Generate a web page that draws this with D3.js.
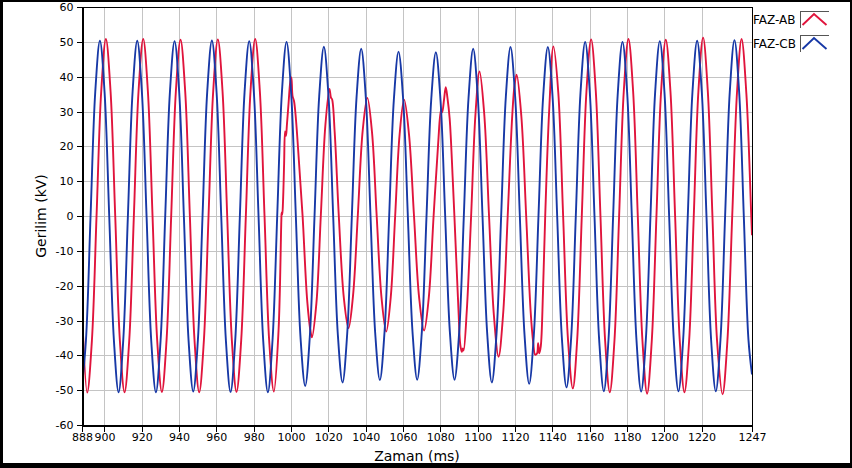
<!DOCTYPE html>
<html>
<head>
<meta charset="utf-8">
<script src="https://cdn.jsdelivr.net/npm/d3@7/dist/d3.min.js"></script>
<style>
  html, body { margin: 0; padding: 0; background: #fff; }
  svg { display: block; }
  text { font-family: "DejaVu Sans", Verdana, sans-serif; }
</style>
</head>
<body>
<svg id="chart" width="852" height="468"></svg>
<script>
// ---------------- data ----------------
const seriesNames = ["FAZ-AB", "FAZ-CB"];
const xTickValues = [888, 900, 920, 940, 960, 980, 1000, 1020, 1040, 1060, 1080, 1100, 1120, 1140, 1160, 1180, 1200, 1220, 1247];
const yTickValues = [-60, -50, -40, -30, -20, -10, 0, 10, 20, 30, 40, 50, 60];

// FAZ-CB (blue): [time ms, kV]
const fazCB = [
  [887.6,-50.8],[890.1,-35.8],[892.6,0.2],[895.1,35.6],[897.6,50.3],[900.1,35.5],[902.6,-0.2],[905.1,-35.7],
  [907.6,-50.6],[910.1,-35.7],[912.6,0.1],[915.1,35.6],[917.6,50.3],[920.1,35.5],[922.6,-0.1],[925.1,-35.8],
  [927.6,-50.6],[930.1,-35.8],[932.6,0.1],[935.1,35.5],[937.6,50.2],[940.1,35.4],[942.6,-0.2],[945.1,-35.7],
  [947.6,-50.4],[950.1,-35.6],[952.6,0.2],[955.1,35.7],[957.6,50.4],[960.1,35.6],[962.6,0.0],[965.1,-35.7],
  [967.6,-50.5],[970.1,-35.7],[972.6,0.1],[975.1,35.5],[977.6,50.2],[980.1,35.4],[982.6,-0.1],[985.1,-35.8],
  [987.6,-50.6],[990.1,-35.6],[992.6,0.0],[995.1,35.4],[997.6,50.0],[1000.1,35.0],[1002.6,-0.3],[1005.1,-35.0],
  [1007.6,-48.8],[1010.1,-34.3],[1012.6,0.1],[1015.1,34.4],[1017.6,48.6],[1020.1,34.2],[1022.6,-0.2],[1025.1,-34.2],
  [1027.6,-47.8],[1030.1,-33.8],[1032.6,0.1],[1035.1,34.0],[1037.6,48.0],[1040.1,33.8],[1042.6,-0.1],[1045.1,-33.6],
  [1047.6,-47.1],[1050.1,-33.3],[1052.6,0.0],[1055.1,33.4],[1057.6,47.2],[1060.1,33.3],[1062.6,-0.1],[1065.1,-33.3],
  [1067.6,-47.0],[1070.1,-33.2],[1072.6,0.0],[1075.1,33.2],[1077.6,47.0],[1080.1,33.2],[1082.6,0.0],[1085.1,-33.2],
  [1087.6,-47.0],[1090.1,-33.4],[1092.6,0.1],[1095.1,33.8],[1097.6,48.0],[1100.1,33.9],[1102.6,0.0],[1105.1,-33.6],
  [1107.6,-47.8],[1110.1,-33.9],[1112.6,0.1],[1115.1,34.2],[1117.6,48.5],[1120.1,34.2],[1122.6,0.0],[1125.1,-34.0],
  [1127.6,-48.2],[1130.1,-34.2],[1132.6,0.1],[1135.1,34.3],[1137.6,48.5],[1140.1,34.6],[1142.6,0.1],[1145.1,-34.8],
  [1147.6,-49.2],[1150.1,-35.0],[1152.6,0.1],[1155.1,35.3],[1157.6,50.0],[1160.1,35.4],[1162.6,0.0],[1165.1,-35.5],
  [1167.6,-50.3],[1170.1,-35.6],[1172.6,0.1],[1175.1,35.4],[1177.6,50.0],[1180.1,35.5],[1182.6,0.0],[1185.1,-35.6],
  [1187.6,-50.4],[1190.1,-35.6],[1192.6,0.0],[1195.1,35.5],[1197.6,50.2],[1200.1,35.5],[1202.6,0.0],[1205.1,-35.6],
  [1207.6,-50.3],[1210.1,-35.6],[1212.6,0.1],[1215.1,35.6],[1217.6,50.3],[1220.1,35.6],[1222.6,0.1],[1225.1,-35.6],
  [1227.6,-50.3],[1230.1,-35.6],[1232.6,0.1],[1235.1,35.7],[1237.6,50.5],[1240.1,35.7],[1242.6,0.1],[1245.1,-35.5],
  [1247.0,-45.5]
];

// FAZ-AB (red): [time ms, kV]
const fazAB = [
  [888.0,-27.0],
  [890.8,-50.7],[893.3,-35.8],[895.8,0.1],[898.3,35.8],[900.8,50.8],[903.3,35.8],[905.8,0.0],[908.3,-35.8],
  [910.8,-50.6],[913.3,-35.8],[915.8,0.1],[918.3,35.9],[920.8,50.8],[923.3,35.8],[925.8,-0.1],[928.3,-35.8],
  [930.8,-50.5],[933.3,-35.7],[935.8,0.1],[938.3,35.8],[940.8,50.6],[943.3,35.7],[945.8,0.0],[948.3,-35.8],
  [950.8,-50.6],[953.3,-35.8],[955.8,0.0],[958.3,35.8],[960.8,50.7],[963.3,35.8],[965.8,0.0],[968.3,-35.7],
  [970.8,-50.5],[973.3,-35.7],[975.8,0.1],[978.3,35.9],[980.8,50.8],[983.3,35.8],[985.8,0.0],[988.3,-35.8],
  [990.8,-50.4],[993.3,-33.0],[994.8,-1.5],[995.0,1.0],[995.3,0.4],[995.7,4.0],[996.3,15.0],[996.8,24.3],[997.3,23.0],[997.8,26.2],
  [998.7,32.5],[999.6,38.5],[1000.2,39.8],[1000.8,34.5],[1001.6,33.0],[1002.6,28.0],[1004.2,16.0],[1006.2,0.0],[1008.7,-24.5],[1010.6,-33.6],[1011.2,-34.8],
  [1013.6,-25.0],[1016.0,0.5],[1018.4,26.0],[1020.6,36.5],[1021.4,34.0],[1022.0,33.5],[1023.4,24.0],[1025.6,0.0],[1028.3,-23.5],[1030.8,-32.2],
  [1033.2,-23.0],[1035.8,0.3],[1038.4,24.5],[1040.9,33.9],[1043.4,24.0],[1045.9,0.0],[1048.5,-23.5],[1051.0,-33.2],
  [1053.4,-23.5],[1055.8,0.0],[1058.2,23.5],[1060.6,33.4],[1063.2,23.5],[1065.9,0.0],[1068.6,-23.2],[1071.3,-32.9],
  [1073.8,-23.5],[1076.4,0.0],[1078.8,20.5],[1080.4,30.5],[1081.0,29.8],[1082.0,33.5],[1082.9,37.0],[1083.8,34.0],[1085.0,28.0],
  [1086.7,10.0],[1088.5,-12.0],[1089.8,-28.0],[1090.7,-37.0],[1091.5,-39.0],[1092.1,-38.0],[1092.5,-38.6],
  [1094.2,-27.0],[1096.5,0.0],[1098.8,29.0],[1101.0,41.5],[1103.5,29.5],[1106.1,0.0],[1108.7,-28.5],[1111.2,-40.4],
  [1113.6,-28.5],[1116.1,0.0],[1118.5,28.5],[1119.8,37.7],[1120.9,40.6],[1123.4,28.7],[1126.0,0.0],[1128.4,-27.5],
  [1129.8,-36.5],[1130.8,-39.8],[1131.8,-39.5],[1132.4,-36.5],[1133.0,-39.4],[1133.8,-37.5],[1135.0,-22.0],[1136.2,0.0],[1138.3,30.0],[1140.6,48.7],
  [1143.2,35.5],[1145.8,0.0],[1148.4,-35.5],[1151.0,-49.5],
  [1153.3,-35.8],[1155.8,0.0],[1158.3,35.8],[1160.8,50.7],[1163.3,35.8],[1165.8,0.0],[1168.3,-35.8],
  [1170.8,-50.6],[1173.3,-35.8],[1175.8,0.0],[1178.3,35.8],[1180.8,50.8],[1183.3,35.8],[1185.8,0.0],[1188.3,-35.8],
  [1190.8,-51.0],[1193.3,-35.8],[1195.8,0.0],[1198.3,35.8],[1200.8,50.6],[1203.3,35.8],[1205.8,0.0],[1208.3,-35.8],
  [1210.8,-50.6],[1213.3,-35.9],[1215.8,0.0],[1218.3,36.0],[1220.8,51.2],[1223.3,36.0],[1225.8,0.0],[1228.3,-36.0],
  [1231.2,-51.2],[1233.8,-36.0],[1236.4,0.0],[1239.0,35.8],[1241.4,50.8],[1244.0,35.0],[1246.6,0.0],[1247.0,-5.5]
];

const seriesColors = ["#e0143c", "#1738a6"];

// ---------------- layout ----------------
const W = 852, H = 468;
const plot = { left: 82, right: 752, top: 7, bottom: 425 };

const svg = d3.select("#chart");

// outer black frame
svg.append("rect").attr("x", 0).attr("y", 0).attr("width", W).attr("height", H).attr("fill", "#000");
svg.append("rect").attr("x", 3).attr("y", 2).attr("width", W - 5).attr("height", H - 7).attr("fill", "#fff");

const x = d3.scaleLinear().domain([888, 1247]).range([plot.left, plot.right]);
const y = d3.scaleLinear().domain([-60, 60]).range([plot.bottom, plot.top]);

// grid
const grid = svg.append("g").attr("stroke", "#c4c4c4").attr("stroke-width", 1).attr("shape-rendering", "crispEdges");
grid.selectAll("line.v").data(xTickValues).join("line")
  .attr("x1", d => Math.round(x(d)) + 0.5).attr("x2", d => Math.round(x(d)) + 0.5)
  .attr("y1", plot.top).attr("y2", plot.bottom);
grid.selectAll("line.h").data(yTickValues).join("line")
  .attr("y1", d => Math.round(y(d)) + 0.5).attr("y2", d => Math.round(y(d)) + 0.5)
  .attr("x1", plot.left).attr("x2", plot.right);

// clip
svg.append("clipPath").attr("id", "clip").append("rect")
  .attr("x", plot.left).attr("y", plot.top).attr("width", plot.right - plot.left).attr("height", plot.bottom - plot.top);

const line = d3.line().x(d => x(d[0])).y(d => y(d[1])).curve(d3.curveCatmullRom.alpha(0.5));

const lines = svg.append("g").attr("clip-path", "url(#clip)");
[fazAB, fazCB].forEach((s, i) => {
  lines.append("path").datum(s)
    .attr("fill", "none")
    .attr("stroke", seriesColors[i])
    .attr("stroke-width", 1.9)
    .attr("stroke-linejoin", "round")
    .attr("d", line);
});

// frame top/right
svg.append("rect").attr("x", plot.left + 0.5).attr("y", plot.top + 0.5)
  .attr("width", plot.right - plot.left).attr("height", plot.bottom - plot.top)
  .attr("fill", "none").attr("stroke", "#000").attr("shape-rendering", "crispEdges");

// axes
const yAxis = svg.append("g").attr("transform", `translate(${plot.left + 0.5},0)`)
  .call(d3.axisLeft(y).tickValues(yTickValues).tickFormat(d => String(d)).tickSize(6).tickPadding(3));
const xAxis = svg.append("g").attr("transform", `translate(0,${plot.bottom + 0.5})`)
  .call(d3.axisBottom(x).tickValues(xTickValues).tickFormat(d => String(d)).tickSize(6).tickPadding(2));
[yAxis, xAxis].forEach(a => {
  a.selectAll("text").attr("font-family", "DejaVu Sans, Verdana, sans-serif").attr("font-size", 11).attr("fill", "#000");
  a.selectAll("line, path").attr("stroke", "#000").attr("shape-rendering", "crispEdges");
});

// axis titles
svg.append("text").attr("x", (plot.left + plot.right) / 2).attr("y", 461)
  .attr("text-anchor", "middle").attr("font-size", 14).attr("fill", "#000").text("Zaman (ms)");
svg.append("text").attr("transform", `translate(46,${(plot.top + plot.bottom) / 2}) rotate(-90)`)
  .attr("text-anchor", "middle").attr("font-size", 14).attr("fill", "#000").text("Gerilim (kV)");

// legend
const legend = svg.append("g");
seriesNames.forEach((name, i) => {
  const top = 11 + i * 24;
  const g = legend.append("g").attr("transform", `translate(0,${top})`);
  g.append("text").attr("x", 753).attr("y", 13).attr("font-size", 12).attr("fill", "#000").text(name);
  g.append("path").attr("d", `M800.5,17 V0.5 H829`).attr("fill", "none").attr("stroke", "#555").attr("shape-rendering", "crispEdges");
  g.append("path").attr("d", `M802.5,14 L814,3 L826.5,14`).attr("fill", "none")
    .attr("stroke", seriesColors[i]).attr("stroke-width", 1.9);
});
</script>
</body>
</html>
